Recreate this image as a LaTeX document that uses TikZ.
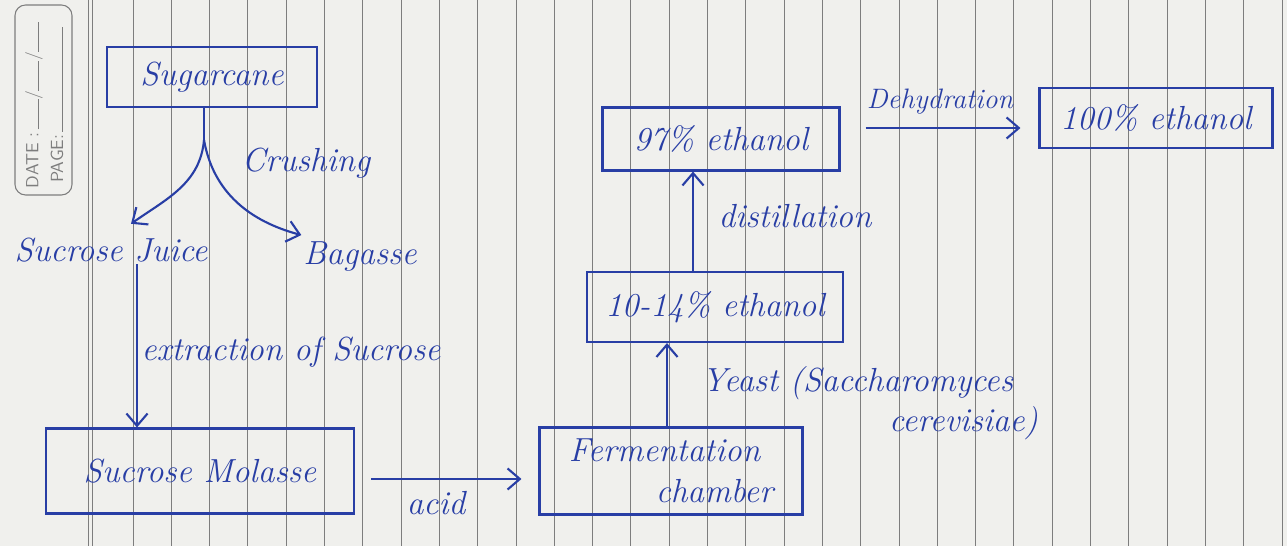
\documentclass[tikz,border=0pt]{standalone}
\usepackage{tikz}
\usetikzlibrary{arrows.meta, calc}

\definecolor{ink}{RGB}{40,62,165}
\definecolor{paper}{RGB}{240,240,237}
\definecolor{rule}{RGB}{125,125,125}

\tikzset{
  stage/.style={draw=ink, line width=1.2pt, text=ink, inner sep=2pt,
    font=\fontsize{19}{23}\selectfont\itshape},
  note/.style={text=ink, inner sep=1pt, font=\fontsize{19}{23}\selectfont\itshape},
  flow/.style={draw=ink, line width=1.2pt, -{Straight Barb[length=7pt, width=12pt]}},
}

\begin{document}
\begin{tikzpicture}[x=0.02cm, y=-0.02cm]
      \useasboundingbox (0,0) rectangle (1287,546);
      \fill[paper] (0,0) rectangle (1287,546);

      % ruled lines of the page
      \foreach \k in {0,...,30}
        \draw[rule, line width=0.5pt] ({133+38.3*\k},0) -- ({133+38.3*\k},546);
      \draw[rule, line width=0.5pt] (88,0) -- (88,546);   %margin
      \draw[rule, line width=0.5pt] (92,0) -- (92,546);

      % date / page corner
      \draw[rule, line width=0.6pt, rounded corners=6pt] (15,5) rectangle (72,195);
      \node[rule, rotate=90, font=\sffamily\fontsize{10}{12}\selectfont] (date) at (34,105)
        {DATE :\,\rule{0.6cm}{0.4pt}/\rule{0.6cm}{0.4pt}/\rule{0.6cm}{0.4pt}};
      \node[rule, rotate=90, font=\sffamily\fontsize{10}{12}\selectfont] (page) at (57,105)
        {PAGE:\,\rule{2.1cm}{0.4pt}};

      % boxes
      \node[stage, minimum width=4.2cm, minimum height=1.2cm] (sugar) at (212,77) {Sugarcane};
      \node[stage, minimum width=6.16cm, minimum height=1.7cm] (molasse) at (200,471) {Sucrose Molasse};
      \node[stage, minimum width=5.26cm, minimum height=1.74cm, align=left] (ferment) at (671,471)
        {Fermentation\\\hspace*{2.6em}chamber};
      \node[stage, minimum width=5.12cm, minimum height=1.4cm] (mid) at (715,307) {10-14\% ethanol};
      \node[stage, minimum width=4.74cm, minimum height=1.26cm] (top97) at (721,139) {97\% ethanol};
      \node[stage, minimum width=4.66cm, minimum height=1.2cm] (hundred) at (1156,118) {100\% ethanol};

      % products and labels
      \node[note] (crush) at (306,163) {Crushing};
      \node[note] (juice) at (111,250) {Sucrose Juice};
      \node[note] (bagasse) at (360,257) {Bagasse};
      \node[note] (extract) at (291,352) {extraction of Sucrose};
      \node[note] (acid) at (436,503) {acid};
      \node[note, align=left, anchor=north west] (yeast) at (700,364)
        {Yeast (Saccharomyces\\\hspace*{5.6em}cerevisiae)};
      \node[note] (distil) at (795,216) {distillation};
      \node[note, font=\fontsize{16}{19}\selectfont\itshape] (dehyd) at (940,102) {Dehydration};

      \coordinate (fork) at (204,140);
      \coordinate (jx) at (137,0);
      \coordinate (yx) at (667,0);
      \coordinate (dx) at (693,0);
      \coordinate (hy) at (0,128);

      \draw[ink, line width=1.2pt] (sugar.south -| fork) -- (fork);
      \draw[flow] (fork) to[out=-95, in=35] ([xshift=0.4cm, yshift=0.24cm]juice.north);
      \draw[flow] (fork) to[out=-80, in=165] ([yshift=0.1cm]bagasse.north west);
      \draw[flow] (juice.south -| jx) -- (molasse.north -| jx);
      \draw[flow, shorten <=0.32cm, shorten >=0.34cm] ($(molasse.east)+(0,8)$) -- ($(ferment.west)+(0,8)$);
      \draw[flow] (ferment.north -| yx) -- (mid.south -| yx);
      \draw[flow] (mid.north -| dx) -- (top97.south -| dx);
      \draw[flow, shorten <=0.5cm, shorten >=0.36cm] (top97.east |- hy) -- (hundred.west |- hy);
\end{tikzpicture}
\end{document}
